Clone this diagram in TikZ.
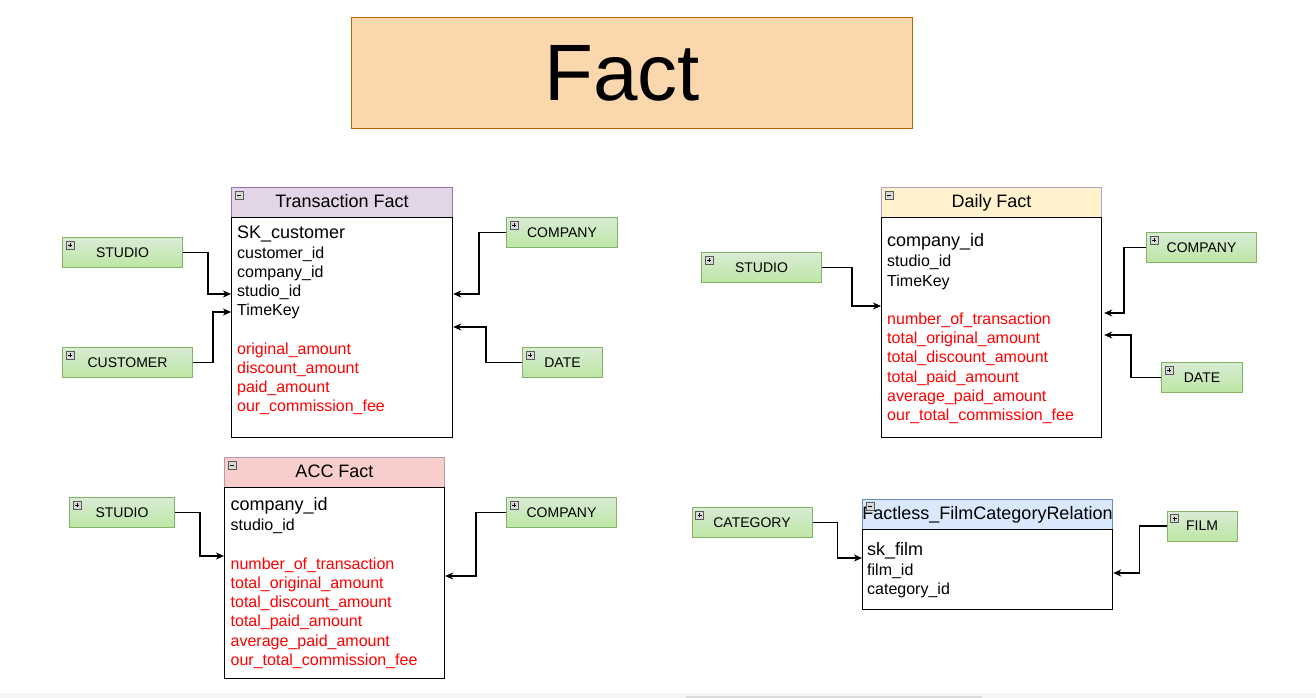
\documentclass[tikz,border=0pt]{standalone}
\usepackage{fontspec}
\setmainfont{Liberation Sans}
\usetikzlibrary{arrows.meta,calc}
\definecolor{titlefill}{HTML}{FAD7AC}
\definecolor{titleline}{HTML}{B46504}
\definecolor{tfill}{HTML}{E1D5E7}
\definecolor{tline}{HTML}{9673A6}
\definecolor{dfill}{HTML}{FFF2CC}
\definecolor{dline}{HTML}{B7A0C8}
\definecolor{afill}{HTML}{F8CECC}
\definecolor{aline}{HTML}{B89AB0}
\definecolor{ffill}{HTML}{DAE8FC}
\definecolor{fline}{HTML}{6C8EBF}
\definecolor{gtop}{HTML}{D8ECD5}
\definecolor{gbot}{HTML}{BDE6A4}
\definecolor{gline}{HTML}{82B366}
\definecolor{fred}{HTML}{FF0000}
\tikzset{
  titlebox/.style={draw=titleline, fill=titlefill, line width=1pt, anchor=north west,
    minimum width=561pt, minimum height=111pt, inner sep=0pt},
  titletext/.style={anchor=center, inner sep=0pt, font=\fontsize{80}{90}\selectfont},
  tblhead/.style={line width=1pt, anchor=north west, minimum height=30pt, inner sep=0pt},
  tbltitle/.style={anchor=center, inner sep=0pt, text height=0.716em, text depth=0pt,
    font=\fontsize{18}{20}\selectfont, yshift=-1.5pt},
  tblbody/.style={draw=black, fill=white, line width=1.2pt, anchor=north west, inner sep=0pt},
  fld/.style={anchor=west, inner sep=0pt, text height=0.75em, text depth=0.25em,
    font=\fontsize{16}{18}\selectfont, yshift=-2.5pt},
  fldbig/.style={fld, font=\fontsize{18}{20}\selectfont},
  fldred/.style={fld, text=fred},
  dimbox/.style={draw=gline, line width=1pt, top color=gtop, bottom color=gbot,
    anchor=north west, minimum height=30pt, inner sep=0pt,
    font=\fontsize{14}{16}\selectfont},
  conn/.style={draw=black, line width=1.3pt, -{Stealth[length=8pt,width=7pt,inset=2.5pt]}},
  plusicon/.pic={
    \draw[draw=gray!70!black, fill=gray!30, line width=0.6pt] (0,0) rectangle (8,8);
    \draw[line width=1pt] (2,4) -- (6,4) (4,2) -- (4,6);
  },
  minusicon/.pic={
    \draw[draw=gray!70!black, fill=gray!30, line width=0.6pt] (0,0) rectangle (8,8);
    \draw[line width=1pt] (2,4) -- (6,4);
  }
}
\begin{document}
\begin{tikzpicture}[x=1pt,y=-1pt]
\useasboundingbox (0,0) rectangle (1316,698);
\fill[white] (0,0) rectangle (1316,698);
% bottom strip
\fill[black!4] (0,693) rectangle (1316,698);
\fill[black!14] (686,695.5) rectangle (982,698);

% title
\node[titlebox] (title) at (351,17) {};
\node[titletext] (titlet) at ($(title.center)+(-10,0)$) {Fact};

% ================= Transaction Fact =================
\node[tblhead, draw=tline, fill=tfill, minimum width=221pt] (thead) at (231,187) {};
\node[tbltitle] (theadt) at (thead.center) {Transaction Fact};
\node[tblbody, minimum width=221pt, minimum height=220pt] (tbody) at (231,217) {};
\pic at ([shift={(4,4)}]thead.north west) {minusicon};
\node[fldbig] (t1) at (237,233) {SK\_customer};
\node[fld] (t2) at (237,253) {customer\_id};
\node[fld] (t3) at (237,272) {company\_id};
\node[fld] (t4) at (237,291.5) {studio\_id};
\node[fld] (t5) at (237,310.5) {TimeKey};
\node[fldred] (t6) at (237,349.5) {original\_amount};
\node[fldred] (t7) at (237,368.5) {discount\_amount};
\node[fldred] (t8) at (237,387.5) {paid\_amount};
\node[fldred] (t9) at (237,406.5) {our\_commission\_fee};

\node[dimbox, minimum width=120pt] (tstudio) at (62,237) {STUDIO};
\node[dimbox, minimum width=130pt] (tcust) at (62,347) {CUSTOMER};
\node[dimbox, minimum width=111pt] (tcomp) at (506,217) {COMPANY};
\node[dimbox, minimum width=80pt] (tdate) at (522,347) {DATE};
\foreach \n in {tstudio,tcust,tcomp,tdate} \pic at ([shift={(4,4)}]\n.north west) {plusicon};

\draw[conn] (tstudio.east) -- ++(25,0) |- ($(tbody.north west)+(0,77)$);
\draw[conn] (tcust.east) -- ++(20,0) |- ($(tbody.north west)+(0,95)$);
\draw[conn] (tcomp.west) -- ++(-27,0) |- ($(tbody.north east)+(0,77)$);
\draw[conn] (tdate.west) -- ++(-36,0) |- ($(tbody.north east)+(0,110)$);

% ================= Daily Fact =================
\node[tblhead, draw=dline, fill=dfill, minimum width=220pt] (dhead) at (881,187) {};
\node[tbltitle] (dheadt) at (dhead.center) {Daily Fact};
\node[tblbody, minimum width=220pt, minimum height=220pt] (dbody) at (881,217) {};
\pic at ([shift={(4,4)}]dhead.north west) {minusicon};
\node[fldbig] (d1) at (887,241) {company\_id};
\node[fld] (d2) at (887,261.5) {studio\_id};
\node[fld] (d3) at (887,281) {TimeKey};
\node[fldred] (d4) at (887,319.5) {number\_of\_transaction};
\node[fldred] (d5) at (887,338.5) {total\_original\_amount};
\node[fldred] (d6) at (887,357.5) {total\_discount\_amount};
\node[fldred] (d7) at (887,377) {total\_paid\_amount};
\node[fldred] (d8) at (887,396) {average\_paid\_amount};
\node[fldred] (d9) at (887,415.5) {our\_total\_commission\_fee};

\node[dimbox, minimum width=120pt] (dstudio) at (701,252) {STUDIO};
\node[dimbox, minimum width=110pt] (dcomp) at (1146,232) {COMPANY};
\node[dimbox, minimum width=81pt] (ddate) at (1161,362) {DATE};
\foreach \n in {dstudio,dcomp,ddate} \pic at ([shift={(4,4)}]\n.north west) {plusicon};

\draw[conn] (dstudio.east) -- ++(30,0) |- ($(dbody.north west)+(0,89)$);
\draw[conn] (dcomp.west) -- ++(-22,0) |- ($(dbody.north east)+(2,96)$);
\draw[conn] (ddate.west) -- ++(-30,0) |- ($(dbody.north east)+(2,118)$);

% ================= ACC Fact =================
\node[tblhead, draw=aline, fill=afill, minimum width=220pt] (ahead) at (224,457) {};
\node[tbltitle] (aheadt) at (ahead.center) {ACC Fact};
\node[tblbody, minimum width=220pt, minimum height=191pt] (abody) at (224,487) {};
\pic at ([shift={(4,4)}]ahead.north west) {minusicon};
\node[fldbig] (a1) at (230.5,505) {company\_id};
\node[fld] (a2) at (230.5,525.5) {studio\_id};
\node[fldred] (a3) at (230.5,564.5) {number\_of\_transaction};
\node[fldred] (a4) at (230.5,583.5) {total\_original\_amount};
\node[fldred] (a5) at (230.5,602.5) {total\_discount\_amount};
\node[fldred] (a6) at (230.5,621.5) {total\_paid\_amount};
\node[fldred] (a7) at (230.5,641) {average\_paid\_amount};
\node[fldred] (a8) at (230.5,660) {our\_total\_commission\_fee};

\node[dimbox, minimum width=105pt] (astudio) at (69,497) {STUDIO};
\node[dimbox, minimum width=110pt] (acomp) at (506,497) {COMPANY};
\foreach \n in {astudio,acomp} \pic at ([shift={(4,4)}]\n.north west) {plusicon};

\draw[conn] (astudio.east) -- ++(25,0) |- ($(abody.north west)+(0,69)$);
\draw[conn] (acomp.west) -- ++(-30,0) |- ($(abody.north east)+(0,89)$);

% ================= Factless =================
\node[tblhead, draw=fline, fill=ffill, minimum width=250pt] (fhead) at (862,499) {};
\node[tbltitle] (fheadt) at (fhead.center) {Factless\_FilmCategoryRelation};
\node[tblbody, minimum width=250pt, minimum height=80pt] (fbody) at (862,529) {};
\pic at ([shift={(4,3)}]fhead.north west) {minusicon};
\node[fldbig] (f1) at (867,550) {sk\_film};
\node[fld] (f2) at (867,570.5) {film\_id};
\node[fld] (f3) at (867,589.5) {category\_id};

\node[dimbox, minimum width=120pt] (fcat) at (691.5,507) {CATEGORY};
\node[dimbox, minimum width=70pt] (ffilm) at (1166.5,510.5) {FILM};
\foreach \n in {fcat,ffilm} \pic at ([shift={(4,4)}]\n.north west) {plusicon};

\draw[conn] (fcat.east) -- ++(25,0) |- ($(fbody.north west)+(0,29)$);
\draw[conn] (ffilm.west) -- ++(-27,0) |- ($(fbody.north east)+(0,44)$);
\end{tikzpicture}
\end{document}
